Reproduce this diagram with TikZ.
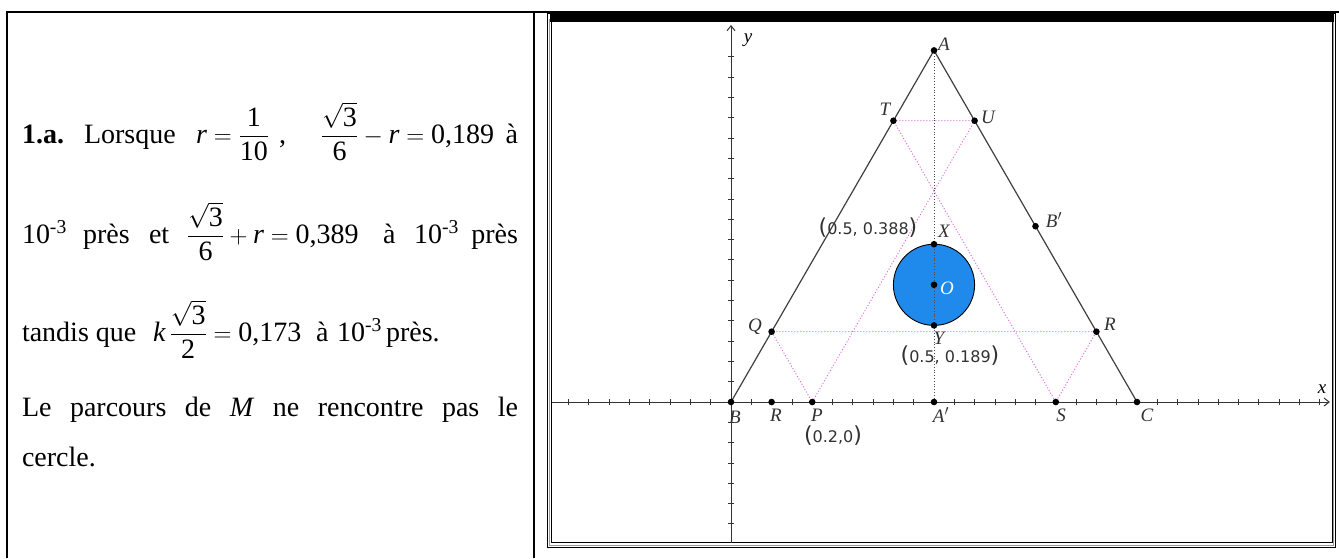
\documentclass[tikz,border=0pt]{standalone}
\usepackage{amsmath}
\usepackage{fontspec}
\setmainfont{Liberation Serif}
\newfontfamily\nspire{DejaVu Sans}
\usetikzlibrary{arrows.meta}
\definecolor{discblue}{RGB}{32,138,236}
\definecolor{pathpink}{RGB}{225,110,225}
\definecolor{labgray}{RGB}{50,50,50}
\newcommand\tn[1]{\textnormal{#1}}
\newcommand\vi[1]{\textnormal{\itshape #1}}
\newcommand\bigpar[1]{{\fontsize{22}{22}\selectfont #1}}
\begin{document}
\begin{tikzpicture}[x=1pt,y=-1pt,
  txt/.style={anchor=base west,inner sep=0pt,outer sep=0pt,font=\fontsize{28}{34}\selectfont},
  txtr/.style={txt,anchor=base east},
  lab/.style={inner sep=0pt,font=\fontsize{19}{19}\selectfont\itshape,text=labgray},
  coordlab/.style={inner sep=0pt,font=\nspire\fontsize{16}{16}\selectfont,text=labgray},
  axis/.style={line width=1pt,draw=black!80},
  tri/.style={line width=1.2pt,draw=black!75},
  pinkpath/.style={draw=pathpink,line width=1pt,dotted},
  median/.style={draw=black!70,line width=0.8pt,dotted}]

\useasboundingbox (0,0) rectangle (1339,558);

% table
\draw[line width=2.2pt] (6.8,558) -- (6.8,12) -- (1339,12);
\draw[line width=2.5pt] (534,12) -- (534,558);

% graph frame
\fill[white] (547.7,13.3) rectangle (1335,547.7);
\draw[line width=1pt] (547.7,13.3) rectangle (1335,547.7);
\draw[line width=1pt,black!40] (549.8,19) rectangle (1333.8,545.3);
\draw[line width=1.3pt] (551.7,21.7) rectangle (1332.3,542.7);
\fill[black] (549.5,14) rectangle (1333.5,22.3);

% left text
\node[txt] (l1a) at (22,143) {\bfseries 1.a.};
\node[txt] (l1b) at (84,143) {Lorsque};
\node[txt] (l1c) at (196,143) {$\vi{r}=\dfrac{\tn{1}}{\tn{10}}$};
\node[txt] (l1d) at (279,143) {,};
\node[txt] (l1e) at (321,143) {$\dfrac{\sqrt{\tn{3}}}{\tn{6}}-\vi{r}=\tn{0,189}$};
\node[txtr] (l1f) at (518,143) {à};

\node[txt] (l2a) at (22,243) {10\textsuperscript{-3}};
\node[txt] (l2b) at (83,243) {près};
\node[txt] (l2c) at (149,243) {et};
\node[txt] (l2d) at (187,243) {$\dfrac{\sqrt{\tn{3}}}{\tn{6}}+\vi{r}=\tn{0,389}$};
\node[txt] (l2e) at (383,243) {à};
\node[txt] (l2f) at (414,243) {10\textsuperscript{-3}};
\node[txtr] (l2g) at (518,243) {près};

\node[txt] (l3a) at (22,341) {tandis que};
\node[txt] (l3b) at (153,341) {$\vi{k}\,\dfrac{\sqrt{\tn{3}}}{\tn{2}}=\tn{0,173}$};
\node[txt] (l3c) at (316,341) {à};
\node[txt] (l3d) at (337,341) {10\textsuperscript{-3}};
\node[txt] (l3e) at (386,341) {près.};

\node[txt] (l4) at (22,416) {\makebox[496pt][s]{Le parcours de \textit{M} ne rencontre pas le}};
\node[txt] (l5) at (22,466) {cercle.};

% graph
\begin{scope}[shift={(731,402)},x=406pt,y=406pt]
  \coordinate (B) at (0,0);
  \coordinate (C) at (1,0);
  \coordinate (A) at (0.5,0.8660);
  \coordinate (T) at (0.4,0.6928);
  \coordinate (U) at (0.6,0.6928);
  \coordinate (Bp) at (0.75,0.4330);
  \coordinate (X) at (0.5,0.3887);
  \coordinate (O) at (0.5,0.2887);
  \coordinate (Y) at (0.5,0.1887);
  \coordinate (Q) at (0.1,0.1732);
  \coordinate (R2) at (0.9,0.1732);
  \coordinate (R1) at (0.1,0);
  \coordinate (P) at (0.2,0);
  \coordinate (Ap) at (0.5,0);
  \coordinate (S) at (0.8,0);
  \coordinate (xs) at (-0.441,0);
  \coordinate (xe) at (1.475,0);
  \coordinate (ys) at (0,-0.3466);
  \coordinate (ye) at (0,0.9286);

  \foreach \i in {-8,...,29}{
    \ifnum\i=0\relax\else
      \draw[axis,line width=0.8pt] ({\i*0.05},0) ++(0pt,3pt) -- ++(0pt,-6pt);
    \fi}
  \foreach \i in {-6,...,17}{
    \ifnum\i=0\relax\else
      \draw[axis,line width=0.8pt] (0,{\i*0.05}) ++(-3pt,0pt) -- ++(6pt,0pt);
    \fi}
  \draw[axis,-{Straight Barb[length=5pt,width=8pt]}] (xs) -- (xe);
  \draw[axis,-{Straight Barb[length=5pt,width=8pt]}] (ys) -- (ye);

  \draw[tri] (B) -- (A) -- (C);
  \draw[pinkpath] (P) -- (U) -- (T) -- (S) -- (R2) -- (Q) -- cycle;
  \draw[fill=discblue,line width=0.9pt] (O) circle[radius=0.1];
  \draw[median] (A) -- (Ap);

  \foreach \p in {A,T,U,Bp,X,O,Y,Q,R2,B,R1,P,Ap,S,C}
    \fill (\p) circle (3.3pt);
\end{scope}

% point labels
\node[lab] (nA) at (944,44) {A};
\node[lab] (nT) at (885,109) {T};
\node[lab] (nU) at (988,117) {U};
\node[lab] (nBp) at (1054,220) {B$'$};
\node[lab] (nX) at (944,231) {X};
\node[lab,text=white] (nO) at (947,288) {O};
\node[lab] (nY) at (939,338) {Y};
\node[lab] (nQ) at (755,327) {Q};
\node[lab] (nR2) at (1110,324) {R};
\node[lab] (nB) at (735,417) {B};
\node[lab] (nR1) at (776,415) {R};
\node[lab] (nP) at (817,415) {P};
\node[lab] (nAp) at (941,415) {A$'$};
\node[lab] (nS) at (1061,415) {S};
\node[lab] (nC) at (1147,415) {C};
\node[lab,text=black] (nx) at (1322,389) {x};
\node[lab,text=black] (ny) at (748,40) {y};

\node[coordlab] (cX) at (868,228) {\bigpar{(}0.5, 0.388\bigpar{)}};
\node[coordlab] (cY) at (950,356) {\bigpar{(}0.5, 0.189\bigpar{)}};
\node[coordlab] (cP) at (833,436) {\bigpar{(}0.2,0\bigpar{)}};
\end{tikzpicture}
\end{document}
